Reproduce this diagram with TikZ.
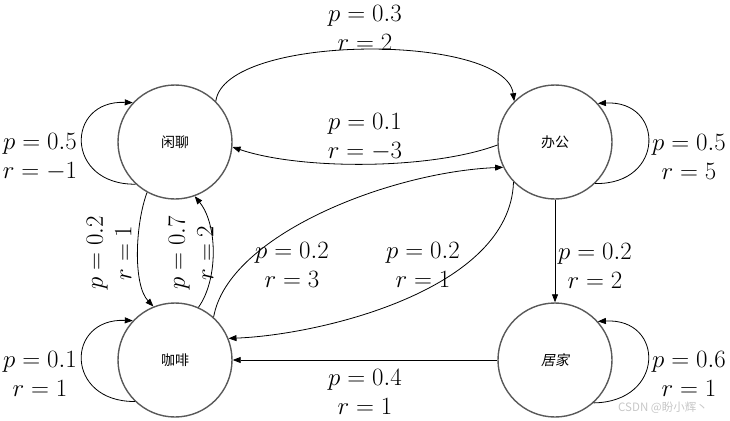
\documentclass[tikz,border=0pt]{standalone}
\usepackage{fontspec}
\newfontfamily\cjk{Noto Sans CJK SC}
\newfontfamily\cjkit[FakeSlant=0.2]{Noto Sans CJK SC}
\usetikzlibrary{arrows.meta}
\newcommand\prlab[2]{$p=#1$\\$r=#2$}
\begin{document}
\begin{tikzpicture}[x=1pt,y=-1pt,
  state/.style={circle,draw=black!65,line width=1.4pt,minimum size=114pt,inner sep=0pt,font=\cjk\fontsize{14}{16}\selectfont},
  edge/.style={draw=black,line width=0.8pt,-{Triangle[length=8pt,width=6pt]}},
  lab/.style={align=center,inner sep=0pt,font=\fontsize{23}{28.5}\selectfont}]
\useasboundingbox (0,0) rectangle (730,420);
\node[state] (xl) at (175,142) {闲聊};
\node[state] (bg) at (555,142) {办公};
\node[state] (kf) at (175,360) {咖啡};
\node[state,font=\cjkit\fontsize{14}{16}\selectfont] (jj) at (555,360) {居家};
% arcs between top nodes
\draw[edge] (xl.45) .. controls (225,33) and (505,33) .. (bg.135);
\draw[edge] (bg.183) .. controls (430,170) and (300,170) .. (xl.-5);
% self loops
\draw[edge] (xl.227) .. controls (65,185) and (65,100) .. (xl.137);
\draw[edge] (bg.314) .. controls (665,185) and (665,100) .. (bg.42);
\draw[edge] (kf.226) .. controls (65,402) and (65,318) .. (kf.137);
\draw[edge] (jj.312) .. controls (665,402) and (665,318) .. (jj.42);
% between xl and kf
\draw[edge] (xl.241) .. controls (135,225) and (133,285) .. (kf.112);
\draw[edge] (kf.66) .. controls (218,280) and (218,225) .. (xl.290);
% diagonals
\draw[edge] (kf.48) .. controls (228,235) and (390,172) .. (bg.206);
\draw[edge] (bg.224) .. controls (510,290) and (320,335) .. (kf.22.7);
% straight
\draw[edge] (bg.south) -- (jj.north);
\draw[edge] (jj.west) -- (kf.east);
% labels
\node[lab] (l1) at (365,28) {\prlab{0.3}{2}};
\node[lab] (l2) at (365,137) {\prlab{0.1}{-3}};
\node[lab] (l3) at (40,157) {\prlab{0.5}{-1}};
\node[lab] (l4) at (689,157) {\prlab{0.5}{5}};
\node[lab] (l5) at (40,374) {\prlab{0.1}{1}};
\node[lab] (l6) at (689,374) {\prlab{0.6}{1}};
\node[lab] (l7) at (595,266) {\prlab{0.2}{2}};
\node[lab] (l8) at (365,392) {\prlab{0.4}{1}};
\node[lab] (l9) at (292,265) {\prlab{0.2}{3}};
\node[lab] (l10) at (423,265) {\prlab{0.2}{1}};
\node[lab,rotate=90] (l11) at (109,253) {\prlab{0.2}{1}};
\node[lab,rotate=90] (l12) at (191,253) {\prlab{0.7}{2}};
\node[text=black!22,font=\cjk\fontsize{11.5}{13}\selectfont,anchor=west,inner sep=0pt] (wm) at (618,408) {CSDN @盼小辉丶};
\end{tikzpicture}
\end{document}
